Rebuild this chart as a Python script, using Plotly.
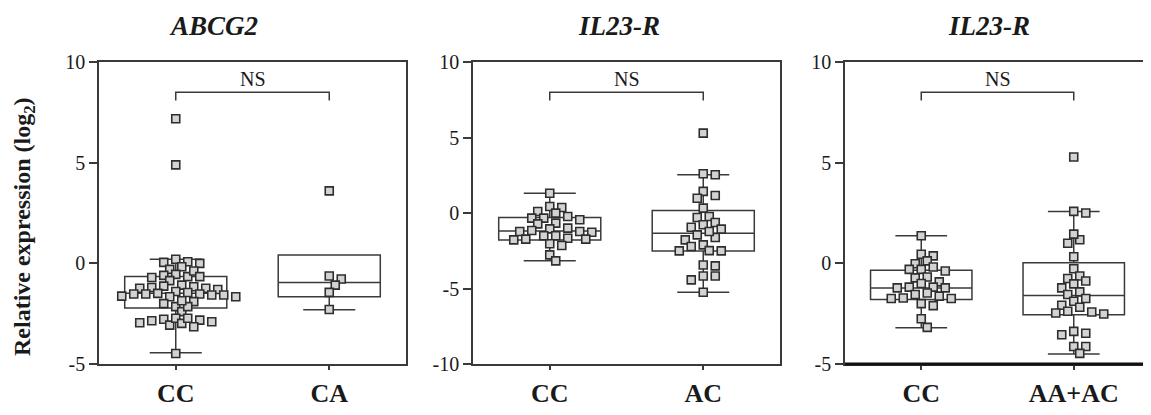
import plotly.graph_objects as go

# ---------------- data ----------------
panel_titles = ["ABCG2", "IL23-R", "IL23-R"]
groups_p1 = ["CC", "CA"]
groups_p2 = ["CC", "AC"]
groups_p3 = ["CC", "AA+AC"]

abcg2_cc = [7.18, 4.89,
            0.08, 0.0, 0.2, 0.05, -0.3, -0.17,
            -0.55, -0.66, -0.7, -0.38, -0.66, -0.6, -0.86,
            -1.16, -1.24, -1.3, -1.08, -1.4, -1.24, -1.2, -1.13,
            -1.52, -1.52, -1.57, -1.66, -1.45, -1.66, -1.63, -1.57, -1.49, -1.52,
            -1.9, -2.15, -2.4, -2.15, -2.0, -1.86,
            -2.78, -2.82, -2.95, -3.07, -2.73, -3.15, -2.98, -2.9, -2.85, -2.73,
            -4.48]
abcg2_ca = [3.6, -0.63, -0.78, -1.08, -1.44, -2.29]

il23_ac_cc = [1.31, 0.43, 0.1, 0.36, -0.23, -0.34, -0.45, -0.34, -0.01, -0.72, -0.67,
              -1.05, -1.23, -1.27, -1.23, -1.16, -1.0, -1.51, -1.67, -1.73, -2.04, -2.15,
              -1.78, -1.73, -1.51, -2.77, -3.17]
il23_ac = [5.29, 2.6, 2.53, 1.43, 0.98, 1.16, 0.32, -0.3, -0.23, -0.78, -0.63, -0.94,
           -1.07, -1.45, -1.62, -1.23, -1.78, -2.11, -2.49, -2.51, -2.51, -2.22, -3.44,
           -3.5, -4.17, -4.17, -4.43, -5.25]

il23_aa_cc = [1.37, 0.37, 0.45, 0.12, -0.02, -0.18, -0.3, -0.38, -0.3, -0.68, -0.72,
              -0.92, -1.0, -1.18, -1.22, -1.22, -1.18, -1.47, -1.55, -1.63, -1.75, -1.75,
              -1.72, -2.0, -2.1, -2.75, -3.18]
il23_aa = [5.28, 2.5, 2.58, 1.17, 1.0, 1.45, 0.33, -0.27, -0.63, -0.88, -0.75, -1.02,
           -1.22, -1.42, -1.55, -1.75, -1.88, -2.08, -2.18, -2.38, -2.52, -2.47, -2.42,
           -3.47, -3.55, -3.38, -4.13, -4.13, -4.47]

# box statistics: q1, median, q3, lower whisker, upper whisker
box_p1 = [(-2.22, -1.49, -0.65, -4.44, 0.2), (-1.66, -0.95, 0.41, -2.3, 0.41)]
box_p2 = [(-1.78, -1.2, -0.3, -3.17, 1.31), (-2.51, -1.34, 0.17, -5.25, 2.53)]
box_p3 = [(-1.8, -1.22, -0.34, -3.2, 1.37), (-2.55, -1.6, 0.03, -4.5, 2.58)]

y_ranges = [(-5, 10), (-10, 10), (-5, 10)]
y_ticks = [[-5, 0, 5, 10], [-10, -5, 0, 5, 10], [-5, 0, 5, 10]]
ns_level = [8.5, 8.0, 8.5]
ns_label = "NS"
y_title = "<b>Relative expression (log<sub>2</sub>)</b>"

# ---------------- layout geometry (screen pixels of the reference) ----------------
W, H = 1151, 415
OFF = 8  # page body margin offset
x_px = [(99, 406), (473, 780), (845, 1150)]
title_cx = [213, 619, 989]
title_cy = 26
y_top_px, y_bot_px = 62, 364
ns_text_px = 79
FONT = "Liberation Serif"
LINE = "#3a3a3a"
TXT = "#1a1a1a"


def px2px(px):
    return (px - OFF) / W


def py2py(py):
    return 1 - (py - OFF) / H


def swarm(values, px_per_y, px_per_x, step_px=6.0):
    """Greedy beeswarm: returns horizontal offsets (data units)."""
    order = sorted(range(len(values)), key=lambda i: -values[i])
    placed = []
    offs = [0.0] * len(values)

    def clash(xp, yp):
        for px, py in placed:
            dx, dy = abs(xp - px), abs(yp - py)
            if (dx < 11 and dy < 5) or (dx < 5 and dy < 9.5):
                return True
        return False

    for i in order:
        yp = values[i] * px_per_y
        k = 0
        while True:
            cands = [0] if k == 0 else [k, -k]
            ok = None
            for c in cands:
                if not clash(c * step_px, yp):
                    ok = c * step_px
                    break
            if ok is not None:
                placed.append((ok, yp))
                offs[i] = ok / px_per_x
                break
            k += 1
    return offs


fig = go.Figure()
panels = [
    (groups_p1, [abcg2_cc, abcg2_ca], box_p1),
    (groups_p2, [il23_ac_cc, il23_ac], box_p2),
    (groups_p3, [il23_aa_cc, il23_aa], box_p3),
]

for p, (groups, vals, boxes) in enumerate(panels):
    ax = "" if p == 0 else str(p + 1)
    xr, yr = "x" + ax, "y" + ax
    y0, y1 = y_ranges[p]
    px_per_x = (x_px[p][1] - x_px[p][0]) / 2.0
    px_per_y = (y_bot_px - y_top_px) / float(y1 - y0)
    for g, (name, v, b) in enumerate(zip(groups, vals, boxes)):
        fig.add_trace(go.Box(
            x=[g], q1=[b[0]], median=[b[1]], q3=[b[2]],
            lowerfence=[b[3]], upperfence=[b[4]],
            width=0.665, whiskerwidth=0.51, boxpoints=False,
            fillcolor="rgba(255,255,255,0)", line=dict(color=LINE, width=1.5),
            xaxis=xr, yaxis=yr, showlegend=False, hoverinfo="skip"))
        offs = swarm(v, px_per_y, px_per_x)
        fig.add_trace(go.Scatter(
            x=[g + o for o in offs], y=v, mode="markers",
            marker=dict(symbol="square", size=8, color="#d3d3d3",
                        line=dict(color="#2e2e2e", width=1.6)),
            xaxis=xr, yaxis=yr, showlegend=False, hoverinfo="y"))
    # NS bracket
    lv = ns_level[p]
    drop = 8.3 / px_per_y
    fig.add_shape(type="path", xref=xr, yref=yr,
                  path=f"M 0 {lv - drop} L 0 {lv} L 1 {lv} L 1 {lv - drop}",
                  line=dict(color=LINE, width=1.5))
    fig.add_annotation(x=0.5, y=y1 - (ns_text_px - y_top_px) / px_per_y,
                       xref=xr, yref=yr, text=ns_label, showarrow=False,
                       xanchor="center", yanchor="middle",
                       font=dict(family=FONT, size=20, color=TXT))
    # panel title
    fig.add_annotation(x=px2px(title_cx[p]), y=py2py(title_cy),
                       xref="paper", yref="paper", text=f"<b><i>{panel_titles[p]}</i></b>",
                       showarrow=False, xanchor="center", yanchor="middle",
                       font=dict(family=FONT, size=27, color=TXT))

    dom_x = [px2px(x_px[p][0]), px2px(x_px[p][1])]
    dom_y = [py2py(y_bot_px), py2py(y_top_px)]
    fig.update_layout(**{
        "xaxis" + ax: dict(domain=dom_x, range=[-0.5, 1.5], tickvals=[0, 1],
                           ticktext=[f"<b>{g}</b>" for g in groups],
                           showline=True, mirror=True, linecolor=LINE, linewidth=1.5,
                           ticks="outside", ticklen=4, tickwidth=1.5, tickcolor=LINE,
                           showgrid=False, zeroline=False, anchor=yr, automargin=False,
                           ticklabelstandoff=1,
                           tickfont=dict(family=FONT, size=26, color=TXT)),
        "yaxis" + ax: dict(domain=dom_y, range=[y0, y1], tickvals=y_ticks[p],
                           ticktext=[str(t) for t in y_ticks[p]],
                           showline=True, mirror=True, linecolor=LINE, linewidth=1.5,
                           ticks="outside", ticklen=8, tickwidth=1.5, tickcolor=LINE,
                           showgrid=False, zeroline=False, anchor=xr, automargin=False,
                           tickfont=dict(family=FONT, size=20, color=TXT)),
    })

# thicker bottom axis of the third panel
fig.add_shape(type="line", xref="x3 domain", yref="y3 domain", x0=0, x1=1, y0=0, y1=0,
              line=dict(color="#111111", width=3))

fig.add_annotation(x=px2px(24), y=py2py(227), xref="paper", yref="paper",
                   text=y_title, textangle=-90, showarrow=False,
                   xanchor="center", yanchor="middle",
                   font=dict(family=FONT, size=24, color=TXT))

fig.update_layout(width=W, height=H, margin=dict(l=0, r=0, t=0, b=0, pad=0),
                  paper_bgcolor="white", plot_bgcolor="white", template=None)

fig.write_html("out.html")
